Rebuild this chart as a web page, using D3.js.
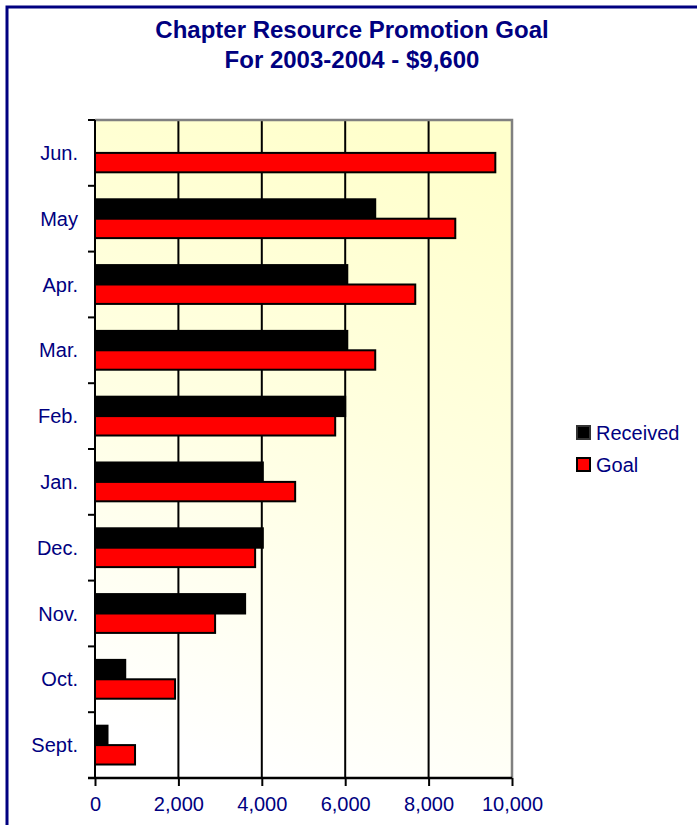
<!DOCTYPE html>
<html>
<head>
<meta charset="utf-8">
<script src="https://cdn.jsdelivr.net/npm/d3@7"></script>
<style>
  html, body { margin: 0; padding: 0; background: #ffffff; }
  svg { display: block; font-family: "Liberation Sans", Arial, sans-serif; }
</style>
</head>
<body>
<svg id="chart" width="697" height="825"></svg>
<script>
const months = ["Sept.", "Oct.", "Nov.", "Dec.", "Jan.", "Feb.", "Mar.", "Apr.", "May", "Jun."];
const received = [300, 725, 3600, 4025, 4025, 6000, 6050, 6050, 6720, null];
const goal = [960, 1920, 2880, 3840, 4800, 5760, 6720, 7680, 8640, 9600];
const seriesNames = ["Received", "Goal"];
const seriesColors = ["#000000", "#FF0000"];
const xTicks = [0, 2000, 4000, 6000, 8000, 10000];
const titleLines = ["Chapter Resource Promotion Goal", "For 2003-2004 - $9,600"];

const svg = d3.select("#chart");
const navy = "#000080";
const plot = { left: 95, right: 512, top: 120, bottom: 778 };

// outer frame
svg.append("rect").attr("x", 7).attr("y", 7).attr("width", 710).attr("height", 840)
  .attr("fill", "none").attr("stroke", navy).attr("stroke-width", 3);

// title
svg.append("g").selectAll("text").data(titleLines).join("text")
  .attr("x", 352).attr("y", (d, i) => 38 + i * 30)
  .attr("text-anchor", "middle").attr("fill", navy)
  .attr("font-weight", "bold").attr("font-size", "24px")
  .text(d => d);

// gradient
const defs = svg.append("defs");
const grad = defs.append("linearGradient").attr("id", "bg")
  .attr("x1", "0.62").attr("y1", "0").attr("x2", "0.38").attr("y2", "1");
grad.append("stop").attr("offset", "0").attr("stop-color", "#FFFFCC");
grad.append("stop").attr("offset", "0.45").attr("stop-color", "#FFFFE0");
grad.append("stop").attr("offset", "1").attr("stop-color", "#FFFFFF");

const x = d3.scaleLinear().domain([0, 10000]).range([plot.left, plot.right]);
const y0 = d3.scaleBand().domain(months.slice().reverse())
  .range([plot.top, plot.bottom]).paddingInner(0.41).paddingOuter(0.205);
const y1 = d3.scaleBand().domain(seriesNames).range([0, y0.bandwidth()]);

svg.append("rect").attr("x", plot.left).attr("y", plot.top)
  .attr("width", plot.right - plot.left).attr("height", plot.bottom - plot.top)
  .attr("fill", "url(#bg)");

// gridlines
svg.append("g").selectAll("line").data(xTicks.filter(t => t > 0 && t < 10000)).join("line")
  .attr("x1", d => x(d)).attr("x2", d => x(d))
  .attr("y1", plot.top).attr("y2", plot.bottom)
  .attr("stroke", "#000").attr("stroke-width", 2);

// plot border top/right gray
svg.append("path")
  .attr("d", `M${plot.left},${plot.top}H${plot.right}V${plot.bottom}`)
  .attr("fill", "none").attr("stroke", "#808080").attr("stroke-width", 2.5);

// bars
const data = months.map((m, i) => ({ m, vals: [received[i], goal[i]] }));
const groups = svg.append("g").selectAll("g").data(data).join("g")
  .attr("transform", d => `translate(0,${y0(d.m)})`);
groups.selectAll("rect")
  .data(d => d.vals.map((v, j) => ({ v, s: seriesNames[j], c: seriesColors[j] })).filter(e => e.v != null))
  .join("rect")
  .attr("x", x(0))
  .attr("y", e => y1(e.s))
  .attr("width", e => x(e.v) - x(0))
  .attr("height", y1.bandwidth())
  .attr("fill", e => e.c)
  .attr("stroke", "#000").attr("stroke-width", 2);

// y axis line and ticks at band boundaries
const step = y0.step();
const bounds = d3.range(months.length).map(i => plot.top + i * step);
svg.append("line").attr("x1", plot.left).attr("x2", plot.left)
  .attr("y1", plot.top).attr("y2", plot.bottom).attr("stroke", "#000").attr("stroke-width", 2);
svg.append("g").selectAll("line").data(bounds).join("line")
  .attr("x1", plot.left - 7).attr("x2", plot.left)
  .attr("y1", d => d).attr("y2", d => d)
  .attr("stroke", "#000").attr("stroke-width", 2);

// y labels
svg.append("g").selectAll("text").data(months).join("text")
  .attr("x", 78).attr("y", d => y0(d) + y0.bandwidth() / 2)
  .attr("dy", "0.35em").attr("text-anchor", "end")
  .attr("fill", navy).attr("font-size", "20px")
  .text(d => d);

// x axis
const xAxis = svg.append("g").attr("transform", `translate(0,${plot.bottom})`)
  .call(d3.axisBottom(x).tickValues(xTicks).tickSize(8).tickPadding(11)
    .tickFormat(d3.format(",")));
xAxis.select(".domain").attr("stroke", "#000").attr("stroke-width", 2.5)
  .attr("d", `M${plot.left - 7},0H${plot.right}`);
xAxis.selectAll(".tick line").attr("stroke", "#000").attr("stroke-width", 2);
xAxis.selectAll(".tick text").attr("fill", navy).attr("font-size", "20px")
  .attr("font-family", "Liberation Sans, Arial, sans-serif");

// legend
const legend = svg.append("g").attr("transform", "translate(577,426)");
const li = legend.selectAll("g").data(seriesNames).join("g")
  .attr("transform", (d, i) => `translate(0,${i * 32})`);
li.append("rect").attr("width", 13).attr("height", 13)
  .attr("fill", (d, i) => seriesColors[i])
  .attr("stroke", (d, i) => i === 0 ? "#333" : "#000").attr("stroke-width", 2);
li.append("text").attr("x", 19).attr("y", 7).attr("dy", "0.35em")
  .attr("fill", navy).attr("font-size", "20px").text(d => d);
</script>
</body>
</html>
